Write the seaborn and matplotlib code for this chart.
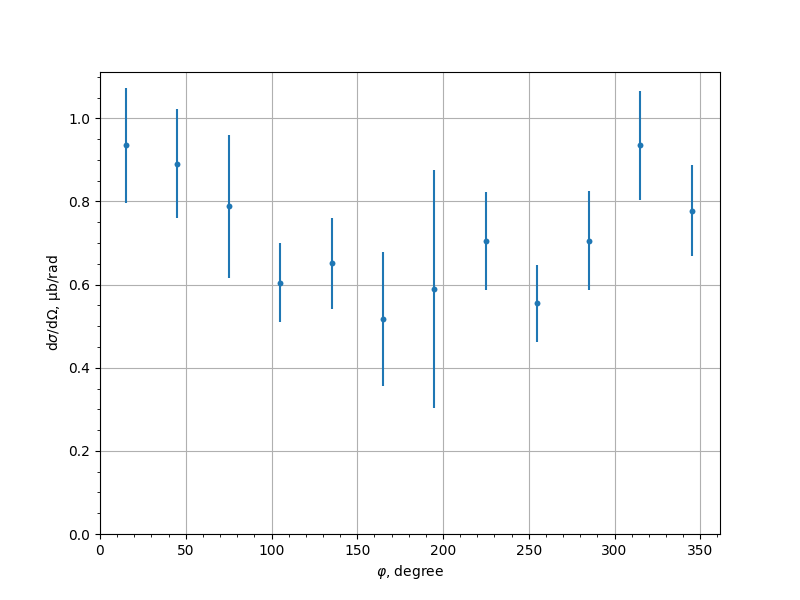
import numpy as np
import pandas as pd
import matplotlib
matplotlib.use("Agg")
import matplotlib.pyplot as plt
import seaborn as sns
from matplotlib.ticker import AutoMinorLocator

# angle bins (degree) and cross section values
phi = [15, 45, 75, 105, 135, 165, 195, 225, 255, 285, 315, 345]
xsec = [0.935, 0.891, 0.789, 0.605, 0.651, 0.518, 0.590, 0.704, 0.555, 0.706, 0.935, 0.778]
err = [0.138, 0.131, 0.172, 0.095, 0.110, 0.161, 0.286, 0.118, 0.093, 0.118, 0.131, 0.110]

df = pd.DataFrame({"phi": phi, "xsec": xsec, "err": err})

color = sns.color_palette("tab10")[0]

fig, ax = plt.subplots(figsize=(8, 6), dpi=100)
ax.errorbar(df["phi"], df["xsec"], yerr=df["err"], fmt="none", ecolor=color, elinewidth=1.5)
sns.scatterplot(data=df, x="phi", y="xsec", ax=ax, color=color, s=18, linewidth=0, zorder=3)

ax.set_xlim(left=0)
ax.set_ylim(bottom=0)
ax.xaxis.set_minor_locator(AutoMinorLocator(5))
ax.yaxis.set_minor_locator(AutoMinorLocator(4))
ax.grid(True, which="major")
ax.set_axisbelow(True)
ax.set_xlabel(r"$\varphi$, degree")
ax.set_ylabel(r"d$\sigma$/dΩ, μb/rad")

plt.savefig("out.png")
